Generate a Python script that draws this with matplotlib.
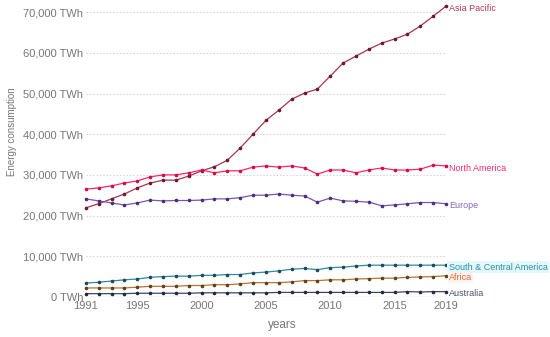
import matplotlib.pyplot as plt
from matplotlib.ticker import FuncFormatter

years = list(range(1991, 2020))

asia_pacific = [21900, 22900, 24100, 25300, 26800, 28000, 28700, 28700, 29700, 31000,
                32000, 33600, 36600, 40000, 43400, 45900, 48600, 50100, 51100, 54300,
                57500, 59200, 60900, 62400, 63400, 64600, 66600, 69000, 71500]
north_america = [26500, 26800, 27300, 28000, 28500, 29500, 30000, 30000, 30500, 31200,
                 30500, 31000, 31000, 31900, 32200, 31900, 32200, 31700, 30200, 31200,
                 31200, 30500, 31200, 31700, 31200, 31200, 31400, 32400, 32200]
europe = [24100, 23600, 23100, 22600, 23100, 23800, 23600, 23700, 23700, 23800,
          24100, 24100, 24400, 25000, 25000, 25300, 25000, 24800, 23300, 24300,
          23600, 23500, 23300, 22400, 22600, 22900, 23200, 23200, 22900]
south_central_america = [3400, 3600, 3900, 4200, 4400, 4800, 5000, 5100, 5100, 5300,
                         5300, 5500, 5500, 5900, 6100, 6400, 6800, 7000, 6700, 7200,
                         7300, 7600, 7800, 7800, 7800, 7800, 7800, 7800, 7800]
africa = [2200, 2200, 2200, 2200, 2400, 2600, 2600, 2600, 2800, 2800,
          3000, 3000, 3200, 3500, 3500, 3500, 3700, 4000, 4000, 4200,
          4200, 4400, 4500, 4600, 4600, 4800, 4900, 5000, 5200]
australia = [800, 800, 800, 800, 900, 900, 900, 900, 900, 1000,
             1000, 1000, 1000, 1000, 1000, 1100, 1100, 1100, 1100, 1100,
             1100, 1100, 1100, 1100, 1100, 1300, 1200, 1300, 1300]

region_names = ["Asia Pacific", "North America", "Europe",
                "South & Central America", "Africa", "Australia"]
region_values = [asia_pacific, north_america, europe,
                 south_central_america, africa, australia]
line_colors = ["#a8344f", "#ff2470", "#7a56ae", "#2d8b9c", "#b87430", "#3d4868"]
label_colors = ["#b83a55", "#ff2a72", "#8d66b8", "#2f8fa0", "#e36e32", "#4b5572"]
marker_colors = ["#6a1a2e", "#d00e48", "#463278", "#1d4860", "#5e421c", "#222a42"]

xticks = [1991, 1995, 2000, 2005, 2010, 2015, 2019]
yticks = [0, 10000, 20000, 30000, 40000, 50000, 60000, 70000]

plt.rcParams["font.family"] = ["Liberation Sans", "DejaVu Sans"]

fig = plt.figure(figsize=(5.5, 3.37), dpi=100)
ax = fig.add_axes([0.156, 0.119, 0.655, 0.869])

for name, vals, lc, tc, mc in zip(region_names, region_values,
                                  line_colors, label_colors, marker_colors):
    ax.plot(years, vals, color=lc, lw=0.9, marker="o", ms=1.6,
            mfc=mc, mec=mc, clip_on=False, zorder=3)
    bbox = None
    if name == "South & Central America":
        bbox = dict(boxstyle="square,pad=0.15", fc="#e2f8fc", ec="none")
    elif name == "Africa":
        bbox = dict(boxstyle="square,pad=0.1", fc="#fdf2f2", ec="none")
    ax.annotate(name, xy=(years[-1], vals[-1]), xytext=(2, -1.5),
                textcoords="offset points", va="center", ha="left",
                color=tc, fontsize=6.5, bbox=bbox, annotation_clip=False)

ax.set_xlim(1991, 2019)
ax.set_ylim(0, 72000)
ax.set_xticks(xticks)
ax.set_yticks(yticks)
ax.yaxis.set_major_formatter(FuncFormatter(lambda v, p: f"{int(v):,} TWh"))
ax.tick_params(axis="both", length=0, colors="#777777")
ax.tick_params(axis="y", labelsize=8, pad=2)
ax.tick_params(axis="x", labelsize=8, pad=3)

for y in yticks[1:]:
    ax.axhline(y, color="#d8d8d8", lw=0.8, ls=(0, (1.5, 1.5)), zorder=1)
ax.axhline(0, color="#dddddd", lw=1.0, zorder=1)

for s in ax.spines.values():
    s.set_visible(False)

fig.text(0.022, 0.608, "Energy consumption", rotation=90, va="center", ha="center",
         color="#777777", fontsize=7)
fig.text(0.513, 0.035, "years", ha="center", va="center", color="#777777", fontsize=8.5)

fig.savefig("out.png", dpi=100)
